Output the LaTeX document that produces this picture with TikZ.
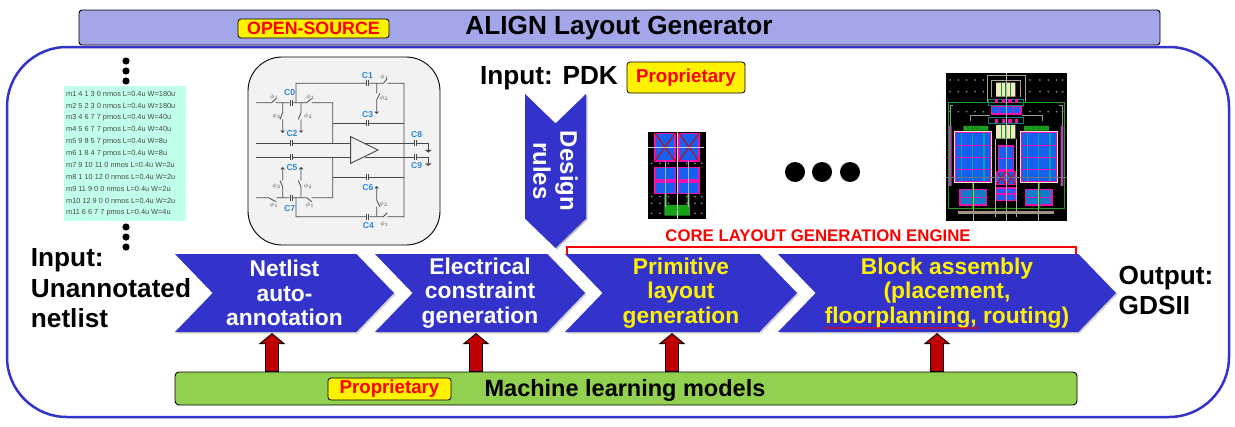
\documentclass[tikz,border=0pt]{standalone}
\usepackage{fontspec}
\setmainfont{Liberation Sans}
\usetikzlibrary{shapes.symbols}
\usetikzlibrary{arrows.meta}
\usetikzlibrary{shadows}
\usetikzlibrary{decorations.pathmorphing}
\definecolor{flowblue}{HTML}{3333CC}
\definecolor{headfill}{HTML}{A3A6E8}
\definecolor{mlgreen}{HTML}{92D050}
\definecolor{upred}{HTML}{C00000}
\definecolor{netfill}{HTML}{BFFFEB}
\definecolor{wiregray}{HTML}{484848}
\definecolor{capblue}{HTML}{2E86D8}
\definecolor{cellblue}{HTML}{1560F0}
\definecolor{cellpink}{HTML}{F010B0}
\definecolor{cellgreen}{HTML}{1F9F1F}
\definecolor{cellcream}{HTML}{F2E8C8}
\newcommand{\fsz}[2]{\fontsize{#1}{#2}\bfseries\selectfont}
\tikzset{
  flow/.style={shape=signal,signal from=west,signal to=east,signal pointer angle=92,
    fill=flowblue,draw=none,align=center,text=white,inner sep=0pt,
    minimum height=78pt,drop shadow={opacity=.35,shadow xshift=1.5pt,shadow yshift=-1.5pt},
    font=\fsz{22.8}{24.5}},
  tag/.style={draw=black,line width=.8pt,fill=yellow,rounded corners=3pt,text=red,inner sep=0pt,font=\fsz{18.7}{18.7}},
  plain/.style={inner sep=0pt,align=left,font=\fsz{26.2}{30.5}},
  upback/.style={line width=14pt,draw=black,-{Triangle[length=11pt,width=26pt]}},
  upfront/.style={line width=11.5pt,draw=upred,-{Triangle[length=9pt,width=21pt]},shorten >=1.2pt,shorten <=.6pt},
  wire/.style={draw=wiregray,line width=.8pt},
  capname/.style={text=capblue,inner sep=0pt,font=\fsz{8.6}{8.6}},
  phiname/.style={text=wiregray,inner sep=0pt,font=\fontsize{6}{6}\selectfont},
  cell/.style={fill=cellblue,draw=cellpink,line width=1.3pt},
  railtext/.style={inner sep=0pt,text=green!45!black,font=\fontfamily{lmr}\fontsize{5}{5}\selectfont},
}
\begin{document}
\begin{tikzpicture}[x=1pt,y=-1pt]
  \useasboundingbox (0,0) rectangle (1235,426);
  % frame and title
  \draw[flowblue,line width=2.5pt,rounded corners=60pt] (7,47) rectangle (1229,417);
  \node[draw=black,line width=.9pt,fill=headfill,rounded corners=3pt,minimum width=1081pt,minimum height=35pt,inner sep=0pt] (title) at (619.5,27.5) {};
  \node[inner sep=0pt,font=\fsz{26.2}{26.2}] (titletext) at (619,28) {ALIGN Layout Generator};
  \node[tag,minimum width=151pt,minimum height=19pt,font=\fsz{17.8}{17.8}] (opensource) at (313.5,28.5) {OPEN-SOURCE};

  % netlist panel
  \node[fill=netfill,minimum width=122pt,minimum height=135pt,inner sep=0pt] (netpanel) at (125,153.5) {};
  \foreach \n/\txt in {0/m1 4 1 3 0 nmos L=0.4u W=180u,1/m2 5 2 3 0 nmos L=0.4u W=180u,2/m3 4 6 7 7 pmos L=0.4u W=40u,3/m4 5 6 7 7 pmos L=0.4u W=40u,4/m5 9 8 5 7 pmos L=0.4u W=8u,5/m6 1 8 4 7 pmos L=0.4u W=8u,6/m7 9 10 11 0 nmos L=0.4u W=2u,7/m8 1 10 12 0 nmos L=0.4u W=2u,8/m9 11 9 0 0 nmos L=0.4u W=2u,9/m10 12 9 0 0 nmos L=0.4u W=2u,10/m11 6 6 7 7 pmos L=0.4u W=4u}
    \node[anchor=west,inner sep=0pt,text=wiregray,font=\fontsize{7.35}{7.35}\selectfont] (net\n) at (66,94+11.9*\n) {\txt};
  \foreach \y in {61,71,81,227,237,247}
    \fill (126,\y) circle (3.6pt);
  \node[plain] (inputnet) at (111,288.5) {Input:\\Unannotated\\netlist};

  % circuit, coordinates are three to the pixel
  \node[draw=black,line width=.9pt,fill=black!5,rounded corners=34pt,minimum width=192pt,minimum height=188pt,inner sep=0pt] (circuit) at (344,151) {};
  \begin{scope}[shift={(240,50)},x=.3333pt,y=-.3333pt]
    \draw[wire] (168,158) -- (168,100) -- (378,100) (388,100) -- (430,100) (430,100) -- (442,86) (442,100) -- (492,100) -- (492,500) -- (442,500) (442,488) -- (430,500) -- (388,500) (378,500) -- (168,500) -- (168,443);
    \draw[wire] (48,158) -- (95,158) -- (108,146) (108,158) -- (148,158) (158,158) -- (200,158) -- (215,146) (215,158) -- (278,158) -- (278,280);
    \draw[wire] (48,443) -- (85,443) -- (108,455) (110,443) -- (148,443) (158,443) -- (200,443) -- (215,455) (215,443) -- (278,443) -- (278,322);
    \draw[wire] (278,220) -- (378,220) (388,220) -- (492,220) (278,382) -- (378,382) (388,382) -- (492,382);
    \draw[wire] (48,280) -- (150,280) (160,280) -- (332,280) (48,322) -- (150,322) (160,322) -- (332,322);
    \draw[wire] (375,280) -- (522,280) (532,280) -- (565,280) -- (565,300) (375,322) -- (522,322) (532,322) -- (565,322) -- (565,340);
    \draw[wire,line width=.9pt] (332,260) -- (414,300) -- (332,340) -- cycle;
    % shunt switches
    \foreach \x in {128,183} {
      \draw[wire] (\x,158) -- (\x,188) -- (\x-8,208) (\x,208) -- (\x,242);
      \draw[wire] (\x,443) -- (\x,410) -- (\x-8,392) (\x,392) -- (\x,358);
      \fill[wiregray] (\x-7,242) -- (\x+7,242) -- (\x,249) -- cycle;
      \fill[wiregray] (\x-7,358) -- (\x+7,358) -- (\x,351) -- cycle;
    }
    \draw[wire] (410,100) -- (410,130) (410,150) -- (420,130) (410,150) -- (410,185);
    \draw[wire] (410,500) -- (410,470) (410,415) -- (410,450) -- (420,470);
    \fill[wiregray] (403,185) -- (417,185) -- (410,192) -- cycle;
    \fill[wiregray] (403,415) -- (417,415) -- (410,408) -- cycle;
    \foreach \x/\y in {565/300,565/340}
      \fill[wiregray] (\x-10,\y) -- (\x+10,\y) -- (\x,\y+8) -- cycle;
    % capacitors
    \foreach \x/\y in {383/100,153/158,383/220,155/280,155/322,383/382,153/443,383/500,527/280,527/322}
      \draw[wire,line width=.9pt] (\x-3,\y-9) -- (\x-3,\y+9) (\x+3,\y-9) -- (\x+3,\y+9);
    \foreach \nm/\x/\y in {C1/382/77,C0/149/129,C3/383/193,C2/156/250,C8/530/255,C9/530/348,C5/156/354,C6/384/412,C7/149/475,C4/385/526}
      \node[capname] (cap\nm) at (\x,\y) {\nm};
    \foreach \n/\x/\y/\s in {a/103/140/1,b/212/140/1,c/433/82/1,d/110/198/2,e/204/198/2,f/432/143/2,g/110/408/2,h/204/408/2,i/431/463/2,j/102/465/1,k/210/465/1,l/434/523/1}
      \node[phiname] (phi\n) at (\x,\y) {$\phi_{\s}$};
  \end{scope}

  % PDK input
  \node[inner sep=0pt,font=\fsz{26.2}{26.2}] (inputpdk) at (549,78) {Input: PDK};
  \node[tag,minimum width=118pt,minimum height=31pt] (tagpdk) at (686,77.5) {Proprietary};
  \node[flow,rotate=-90,minimum width=154pt,minimum height=61pt,drop shadow={opacity=.25,shadow xshift=1pt,shadow yshift=-1pt},font=\fsz{24}{27}] (rules) at (555.5,171) {Design\\rules};

  % primitive cell
  \begin{scope}[shift={(470,0)},x=.3333pt,y=-.3333pt]
    \fill[black] (533,397) rectangle (708,657);
    \foreach \x in {545,570,595,650,675,695}
      \foreach \y in {490,590,610,640}
        \fill[gray] (\x,\y) circle (1pt);
    \foreach \x/\y/\xx/\yy in {555/400/615/483,627/400/687/483,555/502/617/540,625/502/687/540,555/546/617/580,625/546/687/580}
      \draw[cell] (\x,\y) rectangle (\xx,\yy);
    \foreach \x/\xx in {555/615,627/687}
      \draw[red!85!black,line width=1pt] (\x,400) -- (\xx,483) (\x,483) -- (\xx,400);
    \draw[white!80!black,line width=.9pt] (535,441) -- (703,441);
    \fill[cellgreen] (583,580) rectangle (590,615) (652,580) rectangle (659,615) (583,615) rectangle (660,647);
    \draw[white!85!black,line width=1.6pt] (622,397) -- (622,657);
    \foreach \x in {587,655}
      \draw[white!70!black,line width=.7pt] (\x,483) -- (\x,620);
    \node[inner sep=0pt,text=green!70!black,font=\fontfamily{lmr}\fontsize{9.5}{9.5}\selectfont] (vsscell) at (622,631) {VSS};
  \end{scope}

  % three dots
  \foreach \x in {795,822,850}
    \fill (\x,172) circle (10pt);

  % assembled block
  \begin{scope}[shift={(930,60)},x=.3333pt,y=-.3333pt]
    \fill[black] (48,38) rectangle (411,482);
    \foreach \x in {60,85,110,135,160,300,330,355,380,398}
      \foreach \y in {60,95,155}
        \fill[gray] (\x,\y) circle (1pt);
    \draw[cellcream!70!black,line width=.8pt] (172,125) -- (172,46) -- (285,46) -- (285,125) (185,110) -- (185,60) -- (270,60) -- (270,110);
    \draw[cellgreen,line width=.9pt] (55,128) rectangle (403,445);
    \fill[cellcream] (198,68) rectangle (256,110) (198,195) rectangle (256,236);
    \foreach \x in {212,226,240} {
      \fill[green!65!black] (\x,68) rectangle (\x+3,110);
      \fill[green!65!black] (\x,195) rectangle (\x+3,236);
    }
    \fill[cellgreen] (100,198) rectangle (175,212) (282,198) rectangle (357,212);
    \fill[violet!70!white] (57,197) rectangle (65,378) (392,197) rectangle (400,378);
    \draw[white!60!black,line width=.7pt] (60,197) -- (60,135) -- (68,135) (396,197) -- (396,135) -- (388,135) (120,182) -- (120,165) -- (180,165) (336,182) -- (336,165) -- (275,165);
    \foreach \x/\xx in {72/186,270/384} {
      \fill[cellcream] (\x,212) rectangle (\xx,368);
      \fill[cellblue] (\x+4,218) rectangle (\xx-4,364);
      \foreach \s in {22,56,90}
        \draw[cyan!50!green,line width=1.6pt] (\x+\s,220) -- (\x+\s,364);
      \foreach \y in {218,256,292,328,364}
        \draw[cellpink,line width=1.5pt] (\x+4,\y) -- (\xx-4,\y);
      \draw[cellpink,line width=1.5pt] (\x+4,218) rectangle (\xx-4,364);
    }
    \draw[cell] (205,258) rectangle (250,330);
    \draw[cellpink,line width=1.3pt] (205,295) -- (250,295);
    \foreach \x/\xx in {200/228,230/257} {
      \draw[cell] (\x,334) rectangle (\xx,374);
      \draw[red!85!black,line width=1pt] (\x,334) -- (\xx,374) (\x,374) -- (\xx,334);
    }
    \draw[cell] (200,384) rectangle (257,422);
    \draw[cellpink,line width=1.3pt] (200,402) -- (257,402) (228,384) -- (228,422);
    \foreach \x/\xx in {90/170,286/366} {
      \draw[cell,fill=cyan!60!blue] (\x,388) rectangle (\xx,435);
      \draw[cellpink,line width=1.3pt] (\x,412) -- (\xx,412);
      \draw[green!60!black,line width=2pt] (\x+40,368) -- (\x+40,445);
    }
    \draw[cell] (185,140) rectangle (273,162);
    \foreach \x in {205,228,250}
      \draw[cellpink,line width=1pt] (\x,140) -- (\x,162);
    \draw[teal,line width=.9pt] (176,118) rectangle (279,135) (176,172) rectangle (279,190);
    \foreach \x in {195,215,235,255} {
      \fill[cellpink] (\x,116) rectangle (\x+10,130);
      \fill[cellpink] (\x,176) rectangle (\x+10,188);
    }
    \draw[white!70!black,line width=.9pt] (228,38) -- (228,482) (130,368) -- (130,482) (326,368) -- (326,482) (195,236) -- (195,470) (260,236) -- (260,470);
    \draw[white!45!black,line width=.7pt] (48,352) -- (411,352);
    \fill[cellcream!65!black] (83,453) rectangle (373,463);
    \foreach \n/\x/\y/\txt in {a/130/205/VDD,b/326/205/VDD,c/130/447/VSS,d/228/447/VSS,e/326/447/VSS}
      \node[railtext] (rail\n) at (\x,\y) {\txt};
  \end{scope}

  % flow along the middle
  \node[flow,minimum width=219pt] (netlist) at (284.5,293) {Netlist\\auto-\\annotation};
  \node[flow,minimum width=210pt] (electrical) at (480,293) {Electrical\\constraint\\generation};
  \node[flow,text=yellow,minimum width=232pt] (primitive) at (681,293) {Primitive\\layout\\generation};
  \node[flow,text=yellow,minimum width=338pt] (block) at (947,293) {Block assembly\\(placement,\\floorplanning, routing)};
  \draw[red,line width=.7pt,decorate,decoration={snake,amplitude=.7pt,segment length=3pt}] (824,328) -- (980,328);
  \node[plain] (outputgds) at (1166,290.5) {Output:\\GDSII};

  % core engine bracket
  \node[inner sep=0pt,text=red,font=\fsz{16.8}{16.8}] (core) at (818,236) {CORE LAYOUT GENERATION ENGINE};
  \coordinate (corel) at (567,254);
  \coordinate (corer) at (1076,254);
  \draw[red,line width=1.6pt] (corel) -- ++(0,-7) -- (1076,247) -- (corer);

  % learning models below the flow
  \node[draw=black,line width=.9pt,fill=mlgreen,rounded corners=4pt,minimum width=902pt,minimum height=33pt,inner sep=0pt] (ml) at (626,388.5) {};
  \node[inner sep=0pt,font=\fsz{23.5}{23.5}] (mltext) at (625,390) {Machine learning models};
  \node[tag,minimum width=123pt,minimum height=22pt] (tagml) at (389.5,389) {Proprietary};
  \foreach \x in {272,476,672,937} {
    \coordinate (tip) at (\x,333);
    \draw[upback] (tip |- ml.north) -- (tip);
    \draw[upfront] (tip |- ml.north) -- (tip);
  }
\end{tikzpicture}
\end{document}
